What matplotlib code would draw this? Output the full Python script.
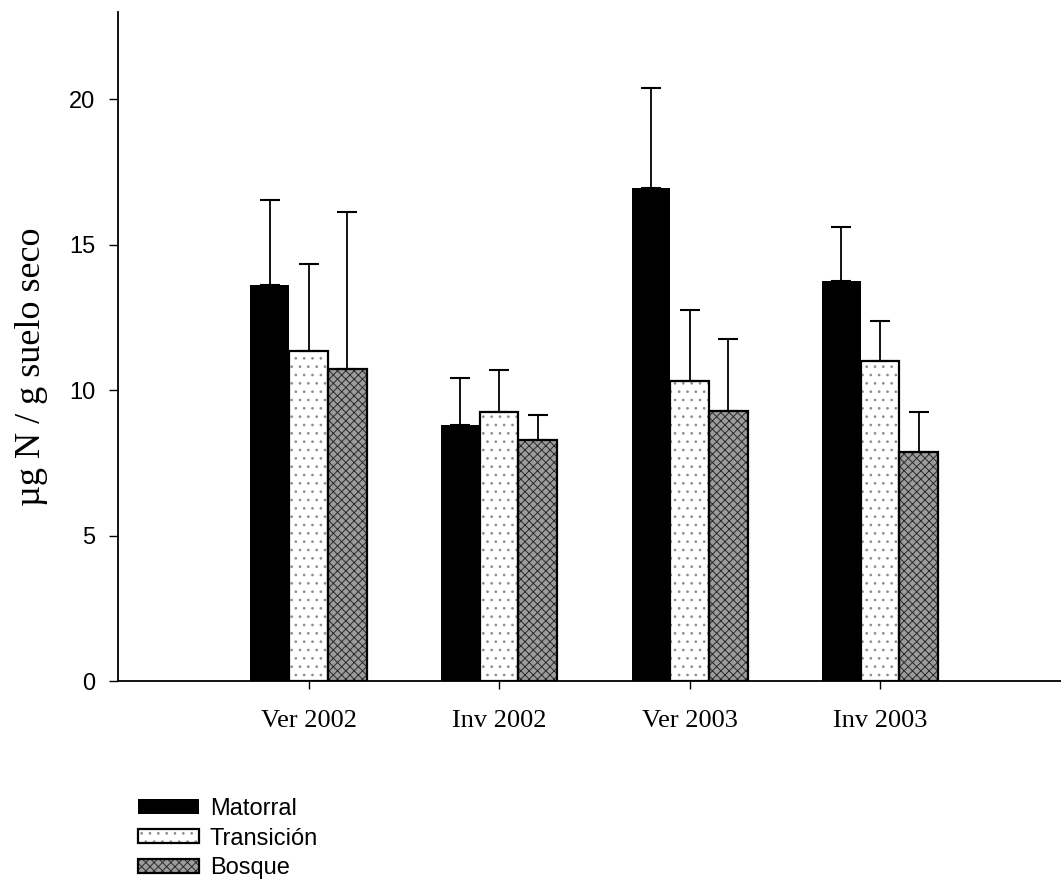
import numpy as np
import matplotlib
matplotlib.use("Agg")
import matplotlib.pyplot as plt
from matplotlib.legend_handler import HandlerTuple

# Nitrógeno en suelo por estación y tipo de vegetación
grupos = ["Ver 2002", "Inv 2002", "Ver 2003", "Inv 2003"]
series = ["Matorral", "Transición", "Bosque"]

matorral = [13.6, 8.8, 16.95, 13.75]
matorral_err = [2.92, 1.61, 3.45, 1.86]

transicion = [11.35, 9.25, 10.33, 11.0]
transicion_err = [2.99, 1.43, 2.43, 1.39]

bosque = [10.72, 8.29, 9.29, 7.89]
bosque_err = [5.41, 0.84, 2.48, 1.36]

y_ticks = [0, 5, 10, 15, 20]

if __name__ == '__main__':
    plt.rcParams['hatch.linewidth'] = 0.7

    fig = plt.figure(figsize=(10.61, 8.86), dpi=100)
    ax = fig.add_axes([118 / 1061, 205 / 886, 943 / 1061, 669 / 886])

    x = np.arange(len(grupos))
    w = 0.203

    # Barras con su textura
    b1 = ax.bar(x - w, matorral, w, color="black", linewidth=0)
    b2 = ax.bar(x, transicion, w, color="white", edgecolor="#8c8c8c",
                hatch="..", linewidth=0)
    b3 = ax.bar(x + w, bosque, w, color="#9c9c9c", edgecolor="#2a2a2a",
                hatch="xxxx", linewidth=0)

    # Contorno negro de las barras claras
    o2 = ax.bar(x, transicion, w, fill=False, edgecolor="black", linewidth=1.6)
    o3 = ax.bar(x + w, bosque, w, fill=False, edgecolor="black", linewidth=1.6)

    # Barras de error (solo hacia arriba)
    for pos, vals, errs in [(x - w, matorral, matorral_err),
                            (x, transicion, transicion_err),
                            (x + w, bosque, bosque_err)]:
        ax.errorbar(pos, vals, yerr=[np.zeros(len(errs)), errs], fmt="none",
                    ecolor="black", elinewidth=1.3, capsize=7, capthick=1.5)

    ax.set_xlim(-1.0, 3.95)
    ax.set_ylim(0, 23)

    ax.spines["top"].set_visible(False)
    ax.spines["right"].set_visible(False)
    ax.spines["left"].set_linewidth(1.3)
    ax.spines["bottom"].set_linewidth(1.3)

    ax.set_yticks(y_ticks)
    ax.set_yticklabels([str(t) for t in y_ticks], family="Liberation Sans",
                       fontsize=17)
    ax.tick_params(axis="y", direction="out", length=6.5, width=1, pad=10)

    ax.set_xticks(x)
    ax.set_xticklabels(grupos, family="Liberation Serif", fontsize=19)
    ax.tick_params(axis="x", direction="out", length=6, width=1, pad=15)

    ax.set_ylabel("µg N / g suelo seco", family="Liberation Serif",
                  fontsize=26)
    ax.yaxis.set_label_coords(-0.074, 0.47)

    # Leyenda abajo a la izquierda
    fig.legend([b1, (b2, o2), (b3, o3)], series, loc="upper left",
               bbox_to_anchor=(0.130, 0.0995), frameon=False,
               handler_map={tuple: HandlerTuple(ndivide=1)},
               prop={"family": "Liberation Sans", "size": 17},
               handlelength=2.6, handleheight=0.55, handletextpad=0.45,
               labelspacing=0.33, borderpad=0, borderaxespad=0)

    fig.savefig("out.png", dpi=100)
